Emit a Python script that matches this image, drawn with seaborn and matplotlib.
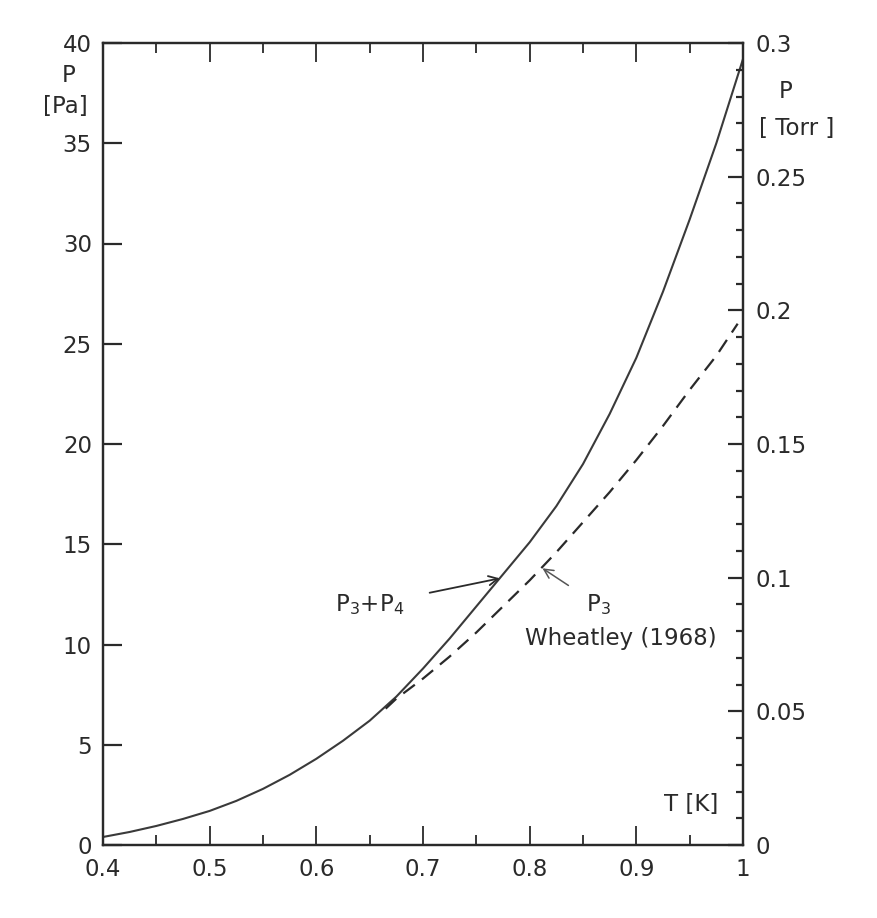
import numpy as np
import pandas as pd
import matplotlib
matplotlib.use("Agg")
import matplotlib.pyplot as plt
import seaborn as sns
from matplotlib.ticker import MultipleLocator, FixedLocator, FuncFormatter

# ---- data ----
T_total = [0.400, 0.425, 0.450, 0.475, 0.500, 0.525, 0.550, 0.575, 0.600, 0.625, 0.650,
           0.675, 0.700, 0.725, 0.750, 0.775, 0.800, 0.825, 0.850, 0.875, 0.900, 0.925,
           0.950, 0.975, 1.000]
P_total = [0.4, 0.65, 0.95, 1.3, 1.7, 2.2, 2.8, 3.5, 4.3, 5.2, 6.2,
           7.4, 8.8, 10.3, 11.9, 13.5, 15.1, 16.9, 19.0, 21.5, 24.3, 27.6,
           31.2, 35.0, 39.2]                                      # P3+P4 [Pa]

T_p3 = [0.665, 0.675, 0.700, 0.725, 0.750, 0.775, 0.800, 0.825, 0.850, 0.875,
        0.900, 0.925, 0.950, 0.975, 0.995]
P_p3 = [6.8, 7.3, 8.3, 9.4, 10.6, 11.9, 13.2, 14.6, 16.1, 17.6,
        19.2, 20.9, 22.7, 24.4, 26.0]                              # P3 Wheatley (1968) [Pa]

left_ticks = [0, 5, 10, 15, 20, 25, 30, 35, 40]
right_ticks = [0, 0.05, 0.1, 0.15, 0.2, 0.25, 0.3]
x_ticks = [0.4, 0.5, 0.6, 0.7, 0.8, 0.9, 1.0]
x_tick_labels = ["0.4", "0.5", "0.6", "0.7", "0.8", "0.9", "1"]
PA_PER_TORR = 133.322

W, H = 878, 918
FS = 16.5
sns.set_style("ticks")
plt.rcParams['font.family'] = ['DejaVu Sans']
plt.rcParams['font.size'] = FS

fig = plt.figure(figsize=(W / 100, H / 100), dpi=100)
ax = fig.add_axes([103 / W, 1 - 845 / H, (743 - 103) / W, (845 - 43) / H])

df_total = pd.DataFrame({"T": T_total, "P": P_total})
df_p3 = pd.DataFrame({"T": T_p3, "P": P_p3})

ink = "#2a2a2a"
sns.lineplot(data=df_total, x="T", y="P", ax=ax, color="#3a3a3a", lw=1.5)
sns.lineplot(data=df_p3, x="T", y="P", ax=ax, color=ink, lw=1.6, linestyle=(0, (6.5, 4)))

ax.set_xlim(0.4, 1.0)
ax.set_ylim(0, 40)
ax.set_xlabel("")
ax.set_ylabel("")

for s in ax.spines.values():
    s.set_linewidth(1.6)
    s.set_color(ink)

ax.xaxis.set_major_locator(FixedLocator(x_ticks))
ax.set_xticklabels(x_tick_labels)
ax.xaxis.set_minor_locator(MultipleLocator(0.05))
ax.yaxis.set_major_locator(FixedLocator(left_ticks))
ax.set_yticklabels([str(v) for v in left_ticks])

ax.tick_params(axis="x", which="major", direction="in", length=14, width=1.3,
               top=True, bottom=True, labelsize=FS, pad=9, colors=ink)
ax.tick_params(axis="x", which="minor", direction="in", length=7, width=1.3,
               top=True, bottom=True, colors=ink)
ax.tick_params(axis="y", which="major", direction="in", length=14, width=1.6,
               left=True, right=False, labelsize=FS, pad=8, colors=ink)

ax2 = ax.twinx()
ax2.set_ylim(0, 40 / PA_PER_TORR)
ax2.yaxis.set_major_locator(FixedLocator(right_ticks))
ax2.yaxis.set_minor_locator(MultipleLocator(0.01))
ax2.yaxis.set_major_formatter(FuncFormatter(lambda v, p: ("%g" % round(v, 3))))
ax2.tick_params(axis="y", which="major", direction="in", length=11, width=1.6,
                labelsize=FS, pad=9, colors=ink)
ax2.tick_params(axis="y", which="minor", direction="in", length=5, width=1.6, colors=ink)
for s in ax2.spines.values():
    s.set_linewidth(1.6)
    s.set_color(ink)

def ft(px, py, s, **kw):
    fig.text(px / W, 1 - py / H, s, color=ink, fontsize=FS, **kw)

# axis titles
ft(69, 75, "P", ha="center", va="center")
ft(65, 107, "[Pa]", ha="center", va="center")
ft(786, 92, "P", ha="center", va="center")
ft(797, 129, "[ Torr ]", ha="center", va="center")
ft(718, 805, "T [K]", ha="right", va="center")

# annotations
ax.annotate("P$_3$+P$_4$", xy=(0.772, 13.3), xycoords="data",
            xytext=(370 / W, 1 - 605 / H), textcoords="figure fraction",
            ha="center", va="center", fontsize=FS, color=ink,
            arrowprops=dict(arrowstyle="->", color=ink, lw=1.3, shrinkA=16, shrinkB=0))
ax.annotate("P$_3$", xy=(0.812, 13.8), xycoords="data",
            xytext=(598 / W, 1 - 605 / H), textcoords="figure fraction",
            ha="center", va="center", fontsize=FS, color=ink,
            arrowprops=dict(arrowstyle="->", color="#555555", lw=1.1, shrinkA=12, shrinkB=0))
ft(621, 639, "Wheatley (1968)", ha="center", va="center")

fig.savefig("out.png", dpi=100, facecolor="white")
